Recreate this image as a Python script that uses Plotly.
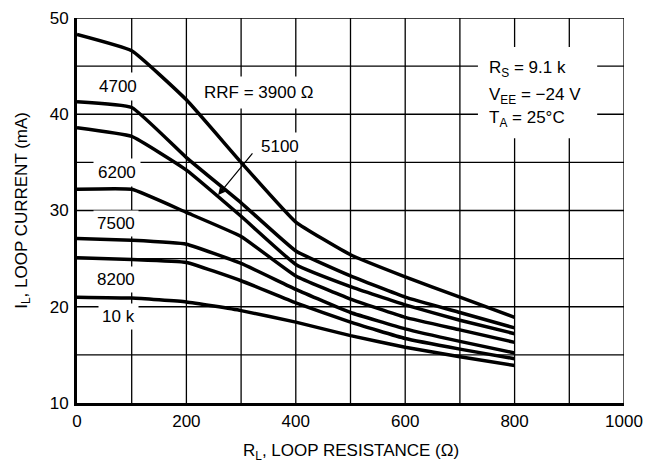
import plotly.graph_objects as go

# Loop resistance (ohm)
rl = [0, 100, 200, 300, 400, 500, 600, 700, 800]

# Loop current (mA) per RRF value
i_3900 = [48.3, 46.6, 41.5, 35.0, 28.8, 25.4, 23.1, 21.0, 18.9]
i_4700 = [41.3, 40.7, 35.5, 30.8, 25.8, 23.2, 21.0, 19.4, 17.8]
i_5100 = [38.6, 37.7, 34.2, 29.4, 24.4, 22.1, 20.2, 18.6, 17.2]
i_6200 = [32.2, 32.2, 29.8, 27.3, 23.2, 20.8, 18.9, 17.6, 16.3]
i_7500 = [27.1, 26.9, 26.5, 24.5, 21.8, 19.4, 17.7, 16.4, 15.2]
i_8200 = [25.1, 24.9, 24.6, 22.7, 20.4, 18.4, 16.7, 15.6, 14.6]
i_10k = [21.0, 20.9, 20.5, 19.6, 18.4, 17.0, 15.8, 14.8, 13.9]

series_names = ["3900", "4700", "5100", "6200", "7500", "8200", "10k"]
series_vals = [i_3900, i_4700, i_5100, i_6200, i_7500, i_8200, i_10k]

x_tickvals = [0, 200, 400, 600, 800, 1000]
x_ticktext = ["0", "200", "400", "600", "800", "1000"]
y_tickvals = [10, 20, 30, 40, 50]
y_ticktext = ["10", "20", "30", "40", "50"]
x_grid = [100, 200, 300, 400, 500, 600, 700, 800, 900, 1000]
y_grid = [15, 20, 25, 30, 35, 40, 45, 50]

cond_lines = ["R<sub>S</sub> = 9.1 k", "V<sub>EE</sub> = −24 V", "T<sub>A</sub> = 25°C"]

FONT = "Liberation Sans, Arial, sans-serif"

fig = go.Figure()

# grid lines
for gx in x_grid:
    fig.add_shape(type="line", xref="x", yref="paper", x0=gx, x1=gx, y0=0, y1=1,
                  layer="below", line=dict(color="black", width=1.3))
for gy in y_grid:
    fig.add_shape(type="line", xref="paper", yref="y", x0=0, x1=1, y0=gy, y1=gy,
                  layer="below", line=dict(color="black", width=1.3))

for name, vals in zip(series_names, series_vals):
    fig.add_trace(go.Scatter(
        x=rl, y=vals, mode="lines", name=name, showlegend=False,
        line=dict(color="black", width=3.5, shape="spline", smoothing=0.35),
    ))

def label(text, x, y, pad=3):
    fig.add_annotation(x=x, y=y, xref="x", yref="y", text=text, showarrow=False,
                       font=dict(family=FONT, size=17, color="black"),
                       bgcolor="white", borderpad=pad)

label("4700", 75, 42.9, pad=4)
label("RRF = 3900 Ω", 333, 42.3, pad=6)
label("6200", 74, 33.9, pad=4)
label("7500", 72, 28.7, pad=3)
label("8200", 72, 22.85, pad=3)
label("10 k", 75, 19.0, pad=3)
label("5100", 372, 36.7, pad=4)

# arrow pointing to the 5100 curve
fig.add_annotation(x=258, y=31.6, xref="x", yref="y", ax=323, ay=36.1,
                   axref="x", ayref="y", text="", showarrow=True,
                   arrowhead=2, arrowsize=1.2, arrowwidth=1.2, arrowcolor="black")

# conditions box: white background breaking the grid, then three text lines
fig.add_shape(type="rect", xref="x", yref="y", x0=733, x1=951, y0=37.5, y1=47.0,
              layer="above", fillcolor="white", line=dict(width=0))
for txt, yy in zip(cond_lines, [44.65, 41.85, 39.55]):
    fig.add_annotation(x=750, y=yy, xref="x", yref="y", xanchor="left",
                       text=txt, showarrow=False,
                       font=dict(family=FONT, size=17, color="black"))

# axis titles
fig.add_annotation(x=0.5, y=-0.127, xref="paper", yref="paper", yanchor="middle",
                   text="R<sub>L</sub>, LOOP RESISTANCE (Ω)", showarrow=False,
                   font=dict(family=FONT, size=17, color="black"))
fig.add_annotation(x=-0.1, y=0.5, xref="paper", yref="paper", xanchor="center",
                   text="I<sub>L</sub>, LOOP CURRENT (mA)", showarrow=False, textangle=-90,
                   font=dict(family=FONT, size=17, color="black"))

fig.update_xaxes(range=[0, 1000], tickmode="array", tickvals=x_tickvals, ticktext=x_ticktext,
                 showgrid=False, showline=True, linecolor="black", linewidth=3,
                 ticks="outside", ticklen=1, tickcolor="rgba(0,0,0,0)",
                 zeroline=False, automargin=False, ticklabeloverflow="allow",
                 tickfont=dict(family=FONT, size=17, color="black"))
fig.update_yaxes(range=[10, 50], tickmode="array", tickvals=y_tickvals, ticktext=y_ticktext,
                 showgrid=False, showline=True, linecolor="black", linewidth=3,
                 ticks="outside", ticklen=2, tickcolor="rgba(0,0,0,0)",
                 zeroline=False, automargin=False, ticklabeloverflow="allow",
                 tickfont=dict(family=FONT, size=17, color="black"))

fig.update_layout(width=646, height=468, plot_bgcolor="white", paper_bgcolor="white",
                  margin=dict(l=77, r=22, t=18, b=65), showlegend=False)

# remove the default page margin so the 646x468 figure fills the window exactly
fig.write_html("out.html", config={"displayModeBar": False},
               post_script="document.body.style.margin='0';document.body.style.overflow='hidden';")
